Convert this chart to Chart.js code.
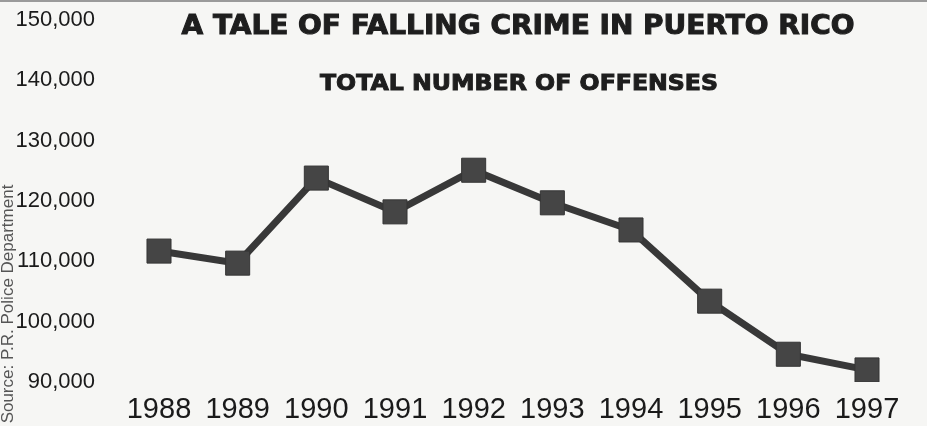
<!DOCTYPE html>
<html>
<head>
<meta charset="utf-8">
<script src="https://cdn.jsdelivr.net/npm/chart.js@4/dist/chart.umd.min.js"></script>
<style>
  html, body { margin: 0; padding: 0; background: #f6f6f4; }
  #wrap { position: relative; width: 927px; height: 426px; }
</style>
</head>
<body>
<div id="wrap"><canvas id="crimeChart" width="927" height="426"></canvas></div>
<script>
const years = ['1988', '1989', '1990', '1991', '1992', '1993', '1994', '1995', '1996', '1997'];
const offenses = [111700, 109700, 123800, 118200, 125100, 119700, 115200, 103400, 94600, 92000];
const yTicks = [90000, 100000, 110000, 120000, 130000, 140000, 150000];
const titleText = 'A TALE OF FALLING CRIME IN PUERTO RICO';
const subtitleText = 'TOTAL NUMBER OF OFFENSES';
const sourceText = 'Source: P.R. Police Department';

// draws the headline text stretched to the width it has in the print
function fitText(ctx, text, font, cx, cy, width) {
  ctx.save();
  ctx.font = font;
  ctx.textAlign = 'center';
  ctx.textBaseline = 'middle';
  const w = ctx.measureText(text).width;
  ctx.translate(cx, cy);
  ctx.scale(width / w, 1);
  ctx.lineWidth = 1;
  ctx.strokeStyle = ctx.fillStyle;
  ctx.fillText(text, 0, 0);
  ctx.strokeText(text, 0, 0);
  ctx.restore();
}

const headlines = {
  id: 'headlines',
  afterDraw(chart) {
    const ctx = chart.ctx;
    ctx.fillStyle = '#1e1e1e';
    fitText(ctx, titleText, 'bold 26px "DejaVu Sans"', 518, 27, 673);
    fitText(ctx, subtitleText, 'bold 22px "DejaVu Sans"', 519, 84, 398);

    ctx.save();
    ctx.fillStyle = '#555';
    ctx.font = '17px "Liberation Sans", Arial, sans-serif';
    ctx.textAlign = 'center';
    ctx.textBaseline = 'middle';
    ctx.translate(8, 304);
    ctx.rotate(-Math.PI / 2);
    ctx.fillText(sourceText, 0, 0);
    ctx.restore();

    ctx.fillStyle = '#9a9a9a';
    ctx.fillRect(0, 0, chart.width, 2);
  }
};

new Chart(document.getElementById('crimeChart'), {
  type: 'line',
  data: {
    labels: years,
    datasets: [{
      label: 'Total number of offenses',
      data: offenses,
      borderColor: '#383838',
      borderWidth: 7,
      pointStyle: 'rect',
      pointRadius: 17,
      pointBackgroundColor: '#454545',
      pointBorderColor: '#353535',
      pointBorderWidth: 1,
      tension: 0,
      fill: false
    }]
  },
  options: {
    responsive: false,
    animation: false,
    layout: { padding: { top: 20, right: 60, bottom: 0, left: 0 } },
    plugins: {
      legend: { display: false },
      title: { display: false },
      tooltip: { enabled: false }
    },
    scales: {
      x: {
        offset: false,
        grid: { display: false, drawTicks: false },
        border: { display: false },
        ticks: {
          padding: 11,
          color: '#1a1a1a',
          maxRotation: 0,
          autoSkip: false,
          font: { family: '"Liberation Sans", Arial, sans-serif', size: 29 }
        },
        afterFit: s => { s.height = 44; s.paddingLeft = 0; s.paddingRight = 0; }
      },
      y: {
        min: 90000,
        max: 150000,
        grid: { display: false, drawTicks: false },
        border: { display: false },
        afterBuildTicks: s => { s.ticks = yTicks.map(v => ({ value: v })); },
        afterFit: s => { s.width = 159; s.paddingTop = 0; s.paddingBottom = 0; },
        ticks: {
          padding: 64,
          color: '#1a1a1a',
          font: { family: '"Liberation Sans", Arial, sans-serif', size: 22 },
          callback: v => v.toLocaleString('en-US')
        }
      }
    }
  },
  plugins: [headlines]
});
</script>
</body>
</html>
